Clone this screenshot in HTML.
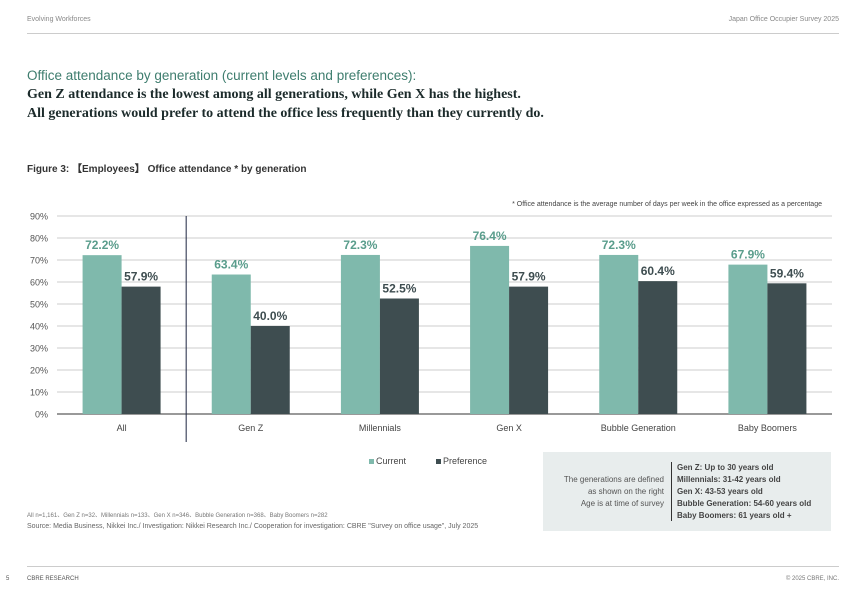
<!DOCTYPE html>
<html><head><meta charset="utf-8"><style>
body{margin:0;width:867px;height:600px;background:#fff;font-family:"Liberation Sans",sans-serif;position:relative;overflow:hidden}
.a{position:absolute;white-space:nowrap}
</style></head><body>
<div class="a" style="left:27px;top:16px;font-size:7px;color:#888">Evolving Workforces</div>
<div class="a" style="right:28px;top:16px;font-size:7px;color:#888">Japan Office Occupier Survey 2025</div>
<div class="a" style="left:27px;top:33px;width:812px;height:1px;background:#ccc"></div>
<div class="a" style="left:27px;top:68px;font-size:13.5px;color:#3e7d6e">Office attendance by generation (current levels and preferences):</div>
<div class="a" style="left:27px;top:85px;font-size:14px;font-weight:bold;color:#1c2b2b;font-family:'Liberation Serif',serif;line-height:19px">Gen Z attendance is the lowest among all generations, while Gen X has the highest.<br>All generations would prefer to attend the office less frequently than they currently do.</div>
<div class="a" style="left:27px;top:160px;font-size:10px;font-weight:bold;color:#333">Figure 3: 【Employees】 Office attendance * by generation</div>
<div class="a" style="right:45px;top:201px;font-size:7px;color:#444">* Office attendance is the average number of days per week in the office expressed as a percentage</div>
<svg class="a" id="chart" style="left:0;top:0" width="867" height="600"></svg>
<div class="a" style="left:369px;top:456px;font-size:9px;color:#444"><span style="display:inline-block;width:5px;height:5px;background:#7fb9ac;margin-right:2px"></span>Current</div>
<div class="a" style="left:436px;top:456px;font-size:9px;color:#444"><span style="display:inline-block;width:5px;height:5px;background:#3e4d50;margin-right:2px"></span>Preference</div>
<div class="a" style="left:27px;top:510px;font-size:6px;color:#777">All n=1,161、Gen Z n=32、Millennials n=133、Gen X n=346、Bubble Generation n=368、Baby Boomers n=282</div>
<div class="a" style="left:27px;top:523px;font-size:7px;color:#666">Source: Media Business, Nikkei Inc./ Investigation: Nikkei Research Inc./ Cooperation for investigation: CBRE "Survey on office usage", July 2025</div>
<div class="a" style="left:543px;top:452px;width:288px;height:79px;background:#e8eded">
 <div class="a" style="right:167px;top:22px;font-size:8px;color:#555;text-align:right;line-height:12px">The generations are defined<br>as shown on the right<br>Age is at time of survey</div>
 <div class="a" style="left:128px;top:10px;width:1px;height:59px;background:#333"></div>
 <div class="a" style="left:134px;top:10px;font-size:8px;font-weight:bold;color:#444;line-height:12px">Gen Z: Up to 30 years old<br>Millennials: 31-42 years old<br>Gen X: 43-53 years old<br>Bubble Generation: 54-60 years old<br>Baby Boomers: 61 years old +</div>
</div>
<div class="a" style="left:27px;top:566px;width:812px;height:1px;background:#ccc"></div>
<div class="a" style="left:6px;top:576px;font-size:6px;color:#555">5</div>
<div class="a" style="left:27px;top:576px;font-size:6px;color:#555">CBRE RESEARCH</div>
<div class="a" style="right:28px;top:576px;font-size:6px;color:#777">© 2025 CBRE, INC.</div>
<script>
const categories=["All","Gen Z","Millennials","Gen X","Bubble Generation","Baby Boomers"];
const current=[72.2,63.4,72.3,76.4,72.3,67.9];
const preference=[57.9,40.0,52.5,57.9,60.4,59.4];
const ticks=[0,10,20,30,40,50,60,70,80,90];
const svg=document.getElementById('chart');const NS='http://www.w3.org/2000/svg';
const x0=57,x1=832,y0=414,yTop=216,maxV=90;
const y=v=>y0-(v/maxV)*(y0-yTop);
const gw=(x1-x0)/categories.length;
function mk(t,a,txt){const e=document.createElementNS(NS,t);for(const k in a)e.setAttribute(k,a[k]);if(txt!=null)e.textContent=txt;svg.appendChild(e);return e;}
ticks.forEach(t=>{
 const l=mk('line',{x1:x0,x2:x1,y1:y(t),y2:y(t),stroke:t===0?'#333':'#ccc','stroke-width':1});
 
 
 const tx=mk('text',{x:48,y:y(t)+3.5,'text-anchor':'end','font-size':9,fill:'#555','font-family':'Liberation Sans'},t+'%');
 
 
});
const bw=39;
categories.forEach((c,i)=>{
 const cx=x0+gw*(i+0.5);
 const r1=mk('rect',{x:cx-bw,y:y(current[i]),width:bw,height:y0-y(current[i]),fill:'#7fb9ac'});
 
 
 const r2=mk('rect',{x:cx,y:y(preference[i]),width:bw,height:y0-y(preference[i]),fill:'#3e4d50'});
 
 
 const l1=mk('text',{x:cx-bw/2,y:y(current[i])-6,'text-anchor':'middle','font-size':12,'font-weight':'bold',fill:'#5a9d8c','font-family':'Liberation Sans'},current[i].toFixed(1)+'%');
 
 
 const l2=mk('text',{x:cx+bw/2,y:y(preference[i])-6,'text-anchor':'middle','font-size':12,'font-weight':'bold',fill:'#3e4d50','font-family':'Liberation Sans'},preference[i].toFixed(1)+'%');
 
 
 const xl=mk('text',{x:cx,y:431,'text-anchor':'middle','font-size':9,fill:'#444','font-family':'Liberation Sans'},c);
 
 
});
const d=mk('line',{x1:x0+gw,x2:x0+gw,y1:216,y2:442,stroke:'#1c2440','stroke-width':1});


</script>
</body></html>
